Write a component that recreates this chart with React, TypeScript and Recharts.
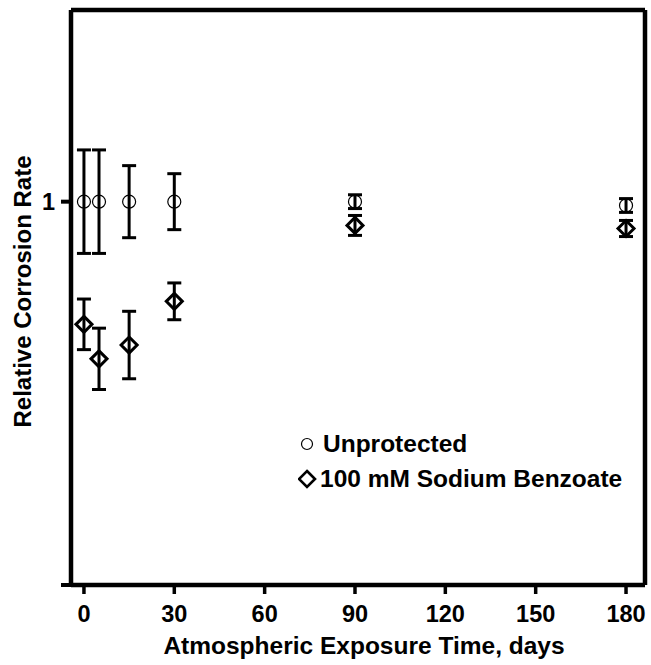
import { ScatterChart, Scatter, XAxis, YAxis, ErrorBar, ReferenceLine, Legend } from 'recharts'

const days = [0, 5, 15, 30, 90, 180]
const unprotected = [1, 1, 1, 1, 1, 0.99]
const unprotectedErr = [0.135, 0.135, 0.094, 0.073, 0.018, 0.018]
const benzoate = [0.68, 0.59, 0.626, 0.74, 0.938, 0.93]
const benzoateErr = [0.066, 0.08, 0.088, 0.048, 0.026, 0.021]
const xTicks = [0, 30, 60, 90, 120, 150, 180]
const yTicks = [0, 1]
const seriesNames = ['Unprotected', '100 mM Sodium Benzoate']

const X_DOMAIN: [number, number] = [-4.3, 186.3]
const Y_DOMAIN: [number, number] = [0, 1.5]

const font = '"Liberation Sans", Arial, sans-serif'

const unprotectedData = days.map((d, i) => ({ day: d, value: unprotected[i], err: unprotectedErr[i] }))
const benzoateData = days.map((d, i) => ({ day: d, value: benzoate[i], err: benzoateErr[i] }))

function OpenCircle(props: any) {
  const { cx, cy } = props
  return <circle cx={cx} cy={cy} r={6.5} fill="none" stroke="#000" strokeWidth={1.2} />
}

function OpenDiamond(props: any) {
  const { cx, cy } = props
  const h = 8
  return (
    <path
      d={`M${cx},${cy - h} L${cx + h},${cy} L${cx},${cy + h} L${cx - h},${cy} Z`}
      fill="none"
      stroke="#000"
      strokeWidth={3}
    />
  )
}

function LegendBox() {
  return (
    <div style={{ fontFamily: font, fontWeight: 'bold', fontSize: 24.5, color: '#000', lineHeight: '35px' }}>
      <div style={{ display: 'flex', alignItems: 'center' }}>
        <svg width={25} height={20}>
          <circle cx={9} cy={10} r={5.5} fill="none" stroke="#000" strokeWidth={1.2} />
        </svg>
        <span>{seriesNames[0]}</span>
      </div>
      <div style={{ display: 'flex', alignItems: 'center' }}>
        <svg width={22} height={20}>
          <path d="M9,2 L17,10 L9,18 L1,10 Z" fill="none" stroke="#000" strokeWidth={2.6} />
        </svg>
        <span>{seriesNames[1]}</span>
      </div>
    </div>
  )
}

export default function App() {
  return (
    <div style={{ position: 'absolute', left: 0, top: 0, width: 651, height: 665, background: '#fff' }}>
      <ScatterChart width={651} height={665} margin={{ top: 10, right: 6, bottom: 0, left: 0 }}>
        <XAxis
          type="number"
          dataKey="day"
          domain={X_DOMAIN}
          ticks={xTicks}
          allowDataOverflow
          height={80}
          tickSize={9}
          tickMargin={11}
          axisLine={{ stroke: '#000', strokeWidth: 4.5 }}
          tickLine={{ stroke: '#000', strokeWidth: 3.5 }}
          tick={{ fill: '#000', fontSize: 23.5, fontWeight: 'bold', fontFamily: font }}
          label={{
            value: 'Atmospheric Exposure Time, days',
            position: 'insideBottom',
            offset: 11,
            dx: 6,
            fill: '#000',
            fontSize: 24.5,
            fontWeight: 'bold',
            fontFamily: font,
          }}
        />
        <YAxis
          type="number"
          dataKey="value"
          domain={Y_DOMAIN}
          ticks={yTicks}
          allowDataOverflow
          width={71}
          tickSize={10}
          tickMargin={6}
          tickFormatter={(v: number) => (v === 1 ? '1' : '')}
          axisLine={{ stroke: '#000', strokeWidth: 4.5 }}
          tickLine={{ stroke: '#000', strokeWidth: 4 }}
          tick={{ fill: '#000', fontSize: 23.5, fontWeight: 'bold', fontFamily: font }}
          label={{
            value: 'Relative Corrosion Rate',
            angle: -90,
            position: 'insideLeft',
            offset: 22,
            dy: -6,
            fill: '#000',
            fontSize: 24,
            fontWeight: 'bold',
            fontFamily: font,
            style: { textAnchor: 'middle' },
          }}
        />
        <ReferenceLine x={X_DOMAIN[1]} stroke="#000" strokeWidth={4.5} />
        <ReferenceLine y={Y_DOMAIN[1]} stroke="#000" strokeWidth={4.5} />
        <Legend
          layout="vertical"
          align="center"
          verticalAlign="middle"
          content={() => <LegendBox />}
          wrapperStyle={{ position: 'absolute', left: 298, top: 426, width: 350 }}
        />
        <Scatter name={seriesNames[0]} data={unprotectedData} shape={<OpenCircle />} isAnimationActive={false}>
          <ErrorBar dataKey="err" direction="y" width={7} stroke="#000" strokeWidth={3} isAnimationActive={false} />
        </Scatter>
        <Scatter name={seriesNames[1]} data={benzoateData} shape={<OpenDiamond />} isAnimationActive={false}>
          <ErrorBar dataKey="err" direction="y" width={7} stroke="#000" strokeWidth={3} isAnimationActive={false} />
        </Scatter>
      </ScatterChart>
    </div>
  )
}
